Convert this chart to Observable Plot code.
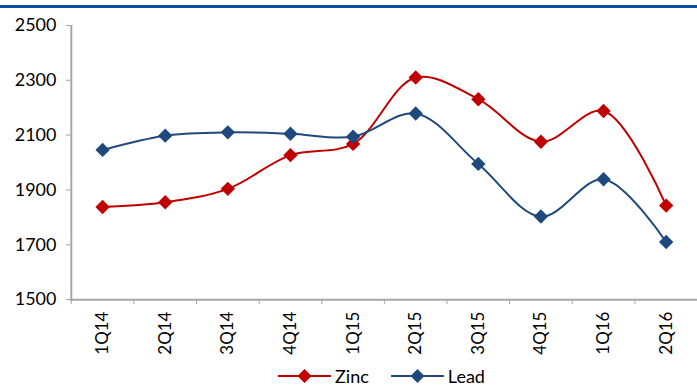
<!DOCTYPE html>
<html><head><meta charset="utf-8">
<script src="https://cdn.jsdelivr.net/npm/d3@7"></script>
<script src="https://cdn.jsdelivr.net/npm/@observablehq/plot@0.6"></script>
<style>
body{margin:0;width:697px;height:388px;overflow:hidden;background:#fff;font-family:Lato,sans-serif;position:relative}
#rule{position:absolute;left:0;top:5px;width:697px;height:3px;background:#0B4DA2}
#chart{position:absolute;left:0;top:0}
#legend{position:absolute;left:0;top:365px;width:697px;height:22px;line-height:22px;display:flex;justify-content:center;align-items:center;gap:22px;font-size:18px;padding-left:66px;box-sizing:border-box}
.item{display:flex;align-items:center;gap:4px}
</style></head><body>
<div id="rule"></div>
<div id="chart"></div>
<div id="legend"></div>
<script>
const quarters = ["1Q14","2Q14","3Q14","4Q14","1Q15","2Q15","3Q15","4Q15","1Q16","2Q16"];
const zinc = [1838, 1855, 1904, 2027, 2068, 2310, 2231, 2076, 2188, 1843];
const lead = [2046, 2098, 2110, 2105, 2094, 2179, 1995, 1803, 1939, 1710];
const yTicks = [1500, 1700, 1900, 2100, 2300, 2500];
const seriesNames = ["Zinc", "Lead"];
const seriesColors = ["#C00000", "#1F497D"];

const data = [];
quarters.forEach((q, i) => {
  data.push({i, q, series: "Zinc", value: zinc[i]});
});
quarters.forEach((q, i) => {
  data.push({i, q, series: "Lead", value: lead[i]});
});
const n = quarters.length;
const boundaries = d3.range(n + 1).map(k => k - 0.5);
const axisColor = "#a6a6a6";

const plot = Plot.plot({
  width: 699, height: 362,
  marginLeft: 71, marginRight: 0, marginTop: 25, marginBottom: 62,
  style: {fontFamily: "Lato, sans-serif", fontSize: "16px", color: "#000", overflow: "visible", background: "transparent"},
  x: {type: "linear", domain: [-0.5, n - 0.5], axis: null},
  y: {domain: [yTicks[0], yTicks[yTicks.length - 1]], axis: null},
  color: {domain: seriesNames, range: seriesColors},
  marks: [
    Plot.ruleY([yTicks[0]], {stroke: axisColor, strokeWidth: 2, insetLeft: -1}),
    Plot.ruleX([-0.5], {y1: yTicks[0], y2: yTicks[yTicks.length - 1], stroke: axisColor, strokeWidth: 2}),
    Plot.axisY({ticks: yTicks, label: null, tickSize: 5, tickPadding: 10, stroke: axisColor, fill: "#000", fontSize: 18, tickFormat: d => String(d)}),
    Plot.axisX({ticks: boundaries, label: null, tickFormat: () => "", tickSize: 5, stroke: axisColor}),
    Plot.axisX({ticks: d3.range(n), label: null, tickFormat: i => quarters[i], tickSize: 0, tickPadding: 12, tickRotate: -90, fill: "#000", fontSize: 17, letterSpacing: 0.8}),
    Plot.line(data, {x: "i", y: "value", stroke: "series", z: "series", curve: "catmull-rom", strokeWidth: 2}),
    Plot.dot(data, {x: "i", y: "value", fill: "series", symbol: "diamond2", r: 6.5})
  ]
});
document.getElementById("chart").append(plot);

const legend = document.getElementById("legend");
seriesNames.forEach((name, k) => {
  const item = document.createElement("div");
  item.className = "item";
  const c = seriesColors[k];
  item.innerHTML = `<svg width="53" height="16"><line x1="0" y1="8" x2="53" y2="8" stroke="${c}" stroke-width="2"/><path d="M26.5,1 L33.5,8 L26.5,15 L19.5,8 Z" fill="${c}"/></svg><span>${name}</span>`;
  legend.append(item);
});
</script>
</body></html>
